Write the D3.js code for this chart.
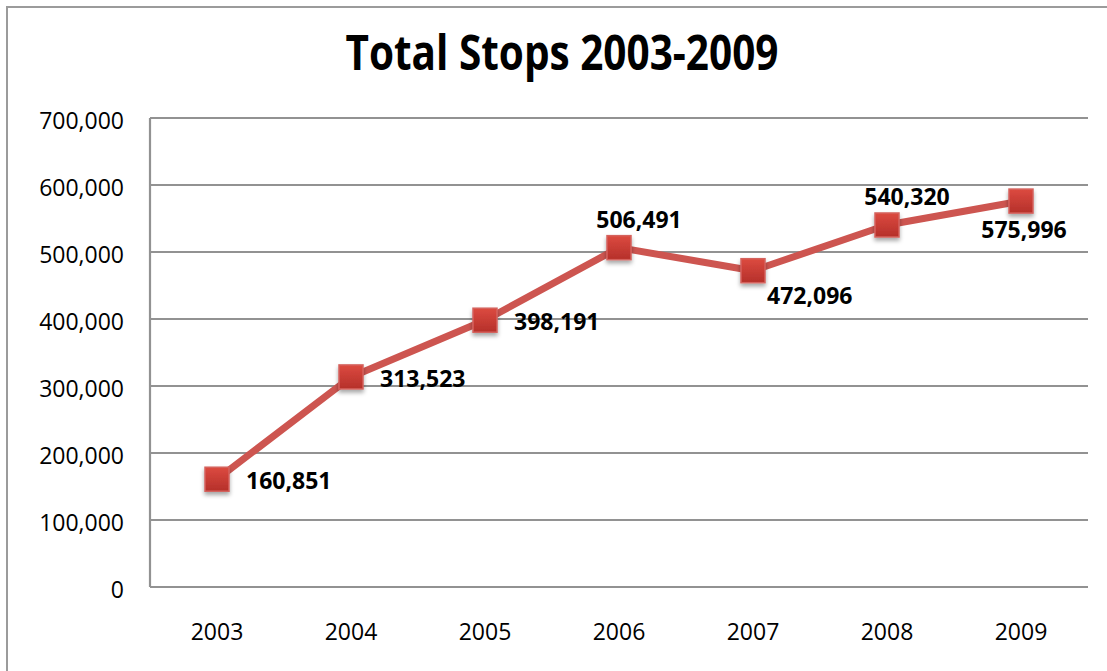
<!DOCTYPE html>
<html>
<head>
<meta charset="utf-8">
<script src="https://cdn.jsdelivr.net/npm/d3@7"></script>
<style>
  html, body { margin: 0; padding: 0; background: #fff; }
  svg { display: block; }
</style>
</head>
<body>
<svg id="chart" width="1107" height="671"></svg>
<script>
// ---- data ----
const years = ["2003", "2004", "2005", "2006", "2007", "2008", "2009"];
const totalStops = [160851, 313523, 398191, 506491, 472096, 540320, 575996];
const yTicks = [0, 100000, 200000, 300000, 400000, 500000, 600000, 700000];
const chartTitle = "Total Stops 2003-2009";
// label placement per point (style only)
const labelPlacement = ["right", "right", "right", "above", "belowright", "above", "below"];

// ---- layout ----
const W = 1107, H = 671;
const plot = { left: 150, right: 1088, top: 118, bottom: 587 };
const svg = d3.select("#chart");
const font = "'Open Sans', 'DejaVu Sans', sans-serif";

const defs = svg.append("defs");
const grad = defs.append("linearGradient").attr("id", "mk").attr("x1", 0).attr("y1", 0).attr("x2", 0).attr("y2", 1);
grad.append("stop").attr("offset", "0%").attr("stop-color", "#dc4a40");
grad.append("stop").attr("offset", "100%").attr("stop-color", "#b5302a");
const filt = defs.append("filter").attr("id", "shadow").attr("x", "-50%").attr("y", "-50%").attr("width", "200%").attr("height", "200%");
filt.append("feDropShadow").attr("dx", 0).attr("dy", 3).attr("stdDeviation", 2).attr("flood-color", "#000").attr("flood-opacity", 0.35);

// outer frame
svg.append("rect").attr("x", 7).attr("y", 7).attr("width", W + 20).attr("height", H + 20)
  .attr("fill", "none").attr("stroke", "#9b9b9b").attr("stroke-width", 2);

const x = d3.scaleBand().domain(years).range([plot.left, plot.right]).padding(0);
const y = d3.scaleLinear().domain([0, 700000]).range([plot.bottom, plot.top]);

// gridlines
svg.append("g").selectAll("line").data(yTicks).join("line")
  .attr("x1", plot.left).attr("x2", plot.right)
  .attr("y1", d => y(d)).attr("y2", d => y(d))
  .attr("stroke", "#929292").attr("stroke-width", 2.2);

// y axis line
svg.append("line").attr("x1", plot.left).attr("x2", plot.left)
  .attr("y1", plot.top).attr("y2", plot.bottom)
  .attr("stroke", "#929292").attr("stroke-width", 2.2);

// y axis labels
const fmt = d3.format(",");
svg.append("g").selectAll("text").data(yTicks).join("text")
  .attr("x", 124).attr("y", d => y(d) + 11)
  .attr("text-anchor", "end")
  .attr("font-family", font).attr("font-size", 23).attr("fill", "#000")
  .text(d => fmt(d));

// x axis labels
svg.append("g").selectAll("text").data(years).join("text")
  .attr("x", d => x(d) + x.bandwidth() / 2).attr("y", 640)
  .attr("text-anchor", "middle")
  .attr("font-family", font).attr("font-size", 23).attr("fill", "#000")
  .text(d => d);

// title
svg.append("text")
  .attr("x", 562).attr("y", 70)
  .attr("text-anchor", "middle")
  .attr("font-family", font).attr("font-size", 48).attr("font-weight", "bold").attr("fill", "#000")
  .attr("textLength", 433).attr("lengthAdjust", "spacingAndGlyphs")
  .text(chartTitle);

const pts = years.map((yr, i) => ({ yr, v: totalStops[i], cx: x(yr) + x.bandwidth() / 2, cy: y(totalStops[i]), pos: labelPlacement[i] }));

// line
const line = d3.line().x(d => d.cx).y(d => d.cy);
svg.append("path").datum(pts).attr("d", line)
  .attr("fill", "none").attr("stroke", "#cd5550").attr("stroke-width", 7)
  .attr("stroke-linejoin", "round");

// markers
const ms = 24;
svg.append("g").selectAll("rect").data(pts).join("rect")
  .attr("x", d => d.cx - ms / 2).attr("y", d => d.cy - ms / 2)
  .attr("width", ms).attr("height", ms)
  .attr("fill", "url(#mk)").attr("stroke", "#d5625d").attr("stroke-width", 1.5)
  .attr("filter", "url(#shadow)");

// data labels
svg.append("g").selectAll("text").data(pts).join("text")
  .attr("font-family", font).attr("font-size", 23).attr("font-weight", "bold").attr("fill", "#000")
  .attr("x", d => d.pos === "right" ? d.cx + 29 : d.pos === "belowright" ? d.cx + 14 : d.pos === "above" ? d.cx + 20 : d.cx + 3)
  .attr("y", d => d.pos === "right" ? d.cy + 10 : d.pos === "belowright" ? d.cy + 33 : d.pos === "above" ? d.cy - 20 : d.cy + 37)
  .attr("text-anchor", d => (d.pos === "right" || d.pos === "belowright") ? "start" : "middle")
  .text(d => fmt(d.v));
</script>
</body>
</html>
